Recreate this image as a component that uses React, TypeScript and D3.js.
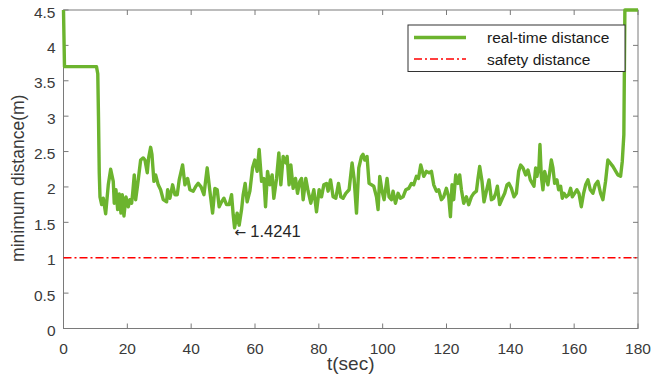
import React, { useEffect, useRef } from "react";
import * as d3 from "d3";

// time (sec) and minimum distance (m)
const times = [
  0, 0.31, 10.33, 10.74, 10.96, 11.2, 11.43, 11.96, 12.46, 13.21, 14.03, 14.78, 15.59, 15.9, 16.44,
  16.97, 17.47, 18.0, 18.41, 18.94, 19.57, 20.29, 20.82, 21.35, 21.67, 22.17, 22.6, 23.23, 24.17,
  24.98, 25.52, 26.24, 26.67, 27.3, 27.71, 28.33, 28.87, 29.68, 30.43, 31.25, 32.31, 32.62, 33.34,
  34.19, 34.91, 35.63, 36.25, 37.32, 38.04, 38.88, 39.6, 40.64, 41.48, 42.2, 43.1, 44.0, 45.02,
  45.87, 46.71, 47.43, 48.15, 48.78, 49.53, 50.25, 51.09, 51.91, 52.66, 53.16, 53.6, 54.41, 55.04,
  55.79, 56.29, 56.92, 57.54, 58.39, 59.23, 59.95, 60.68, 61.3, 62.05, 62.77, 63.3, 63.93, 64.65,
  65.37, 65.9, 66.75, 67.47, 68.1, 68.82, 69.66, 70.07, 70.69, 71.23, 71.95, 72.7, 73.32, 74.04,
  74.58, 75.08, 75.92, 76.64, 77.49, 78.43, 79.27, 80.09, 80.84, 81.56, 82.4, 82.9, 83.66, 84.47,
  85.32, 86.16, 86.88, 87.6, 88.45, 89.48, 90.42, 91.05, 91.8, 92.52, 93.36, 93.86, 94.39, 95.11,
  95.74, 96.49, 97.21, 98.06, 98.56, 99.09, 99.81, 100.44, 101.38, 102.0, 102.75, 103.25, 104.0,
  104.82, 105.57, 106.39, 107.23, 108.17, 109.02, 109.73, 110.58, 111.21, 111.93, 112.87, 113.71,
  114.53, 115.28, 116.0, 116.84, 117.56, 118.41, 119.13, 119.97, 120.69, 121.23, 121.73, 122.26,
  122.89, 123.6, 124.14, 124.67, 125.39, 126.23, 126.96, 127.8, 128.52, 129.37, 129.87, 130.4,
  131.12, 131.75, 132.5, 133.31, 134.06, 134.78, 135.41, 135.94, 136.66, 137.5, 138.23, 138.95,
  139.57, 140.32, 141.14, 141.89, 142.61, 143.24, 143.96, 144.8, 145.52, 146.27, 146.9, 147.4,
  147.93, 148.34, 148.97, 149.28, 149.71, 150.21, 150.75, 151.28, 151.78, 152.32, 152.85, 153.35,
  153.88, 154.6, 155.13, 155.76, 156.29, 156.79, 157.54, 158.26, 158.89, 159.42, 160.14, 160.86,
  161.49, 162.24, 162.96, 163.59, 164.31, 165.05, 165.87, 166.62, 167.43, 168.28, 169.0, 169.84,
  170.56, 172.13, 173.69, 174.54, 175.07, 175.57, 175.89, 180,
];
const distances = [
  4.5, 3.7, 3.7, 3.6, 3.0, 2.2, 1.86, 1.75, 1.84, 1.62, 2.03, 2.25, 2.08, 1.77, 1.96,
  1.68, 1.9, 1.63, 1.89, 1.59, 1.86, 1.72, 1.82, 1.77, 1.91, 2.17, 1.82, 2.03, 2.38,
  2.41, 2.38, 2.2, 2.41, 2.56, 2.46, 2.08, 2.17, 2.03, 1.96, 1.82, 1.79, 1.96, 1.84,
  2.03, 1.89, 1.89, 2.1, 2.31, 2.03, 2.12, 1.96, 1.94, 2.01, 2.05, 2.0, 1.89, 2.27,
  1.94, 1.63, 1.98, 1.96, 1.72, 1.79, 1.84, 1.75, 1.75, 1.89, 1.61, 1.4241, 1.63, 1.46,
  1.68, 1.89, 2.05, 1.79, 1.94, 2.27, 2.38, 2.22, 2.53, 2.08, 2.12, 1.72, 2.22, 2.03,
  2.17, 1.84, 2.12, 2.48, 2.03, 2.43, 2.34, 2.43, 2.03, 2.31, 1.98, 2.12, 1.91, 2.08,
  2.12, 1.82, 2.12, 1.94, 1.77, 1.96, 1.65, 1.96, 1.86, 2.03, 2.05, 1.94, 2.1, 1.86,
  1.84, 2.05, 1.86, 1.84, 1.91, 1.96, 2.34, 2.12, 1.63, 2.27, 2.43, 2.46, 2.38, 2.43,
  2.05, 2.03, 2.01, 1.86, 1.68, 2.15, 1.94, 1.82, 2.12, 1.86, 1.82, 1.94, 1.77,
  1.91, 1.84, 1.86, 1.96, 1.98, 2.05, 2.03, 2.15, 2.12, 2.31, 2.15, 2.22,
  2.2, 2.22, 2.03, 1.94, 1.96, 1.82, 1.86, 1.98, 1.86, 1.58, 2.03, 1.82,
  2.17, 2.05, 2.17, 1.96, 1.77, 1.86, 1.75, 1.86, 1.91, 1.94, 2.12, 2.29,
  2.08, 1.79, 1.94, 2.1, 1.82, 1.84, 1.91, 2.01, 1.75, 1.84, 1.91, 2.03,
  2.05, 1.98, 1.86, 1.91, 2.22, 2.31, 2.27, 2.17, 2.24, 2.1, 2.05, 2.01,
  2.27, 2.15, 2.29, 2.6, 2.15, 1.96, 2.22, 2.12, 2.03, 2.2, 2.38, 2.27,
  2.05, 2.1, 1.96, 2.01, 1.84, 1.91, 1.86, 1.89, 1.98, 1.86, 1.91, 1.96,
  1.91, 1.72, 1.91, 2.03, 2.1, 1.96, 1.91, 2.03, 2.08, 1.91, 1.82, 2.08,
  2.38, 2.29, 2.17, 2.15, 2.36, 2.74, 4.5, 4.5,
];
const safetyDistance = 1;
const minLabel = "1.4241";
const xTicks = [0, 20, 40, 60, 80, 100, 120, 140, 160, 180];
const yTicks = [0, 0.5, 1, 1.5, 2, 2.5, 3, 3.5, 4, 4.5];
const legendLabels = ["real-time distance", "safety distance"];

const App = () => {
  const ref = useRef<SVGSVGElement>(null);

  useEffect(() => {
    const width = 652;
    const height = 389;
    const margin = { top: 10, right: 14, bottom: 60.5, left: 63.5 };
    const font = "'Liberation Sans', Arial, sans-serif";
    const green = "#6cb42e";
    const textColor = "#3a3a3a";

    const svg = d3.select(ref.current);
    svg.selectAll("*").remove();

    const x = d3.scaleLinear().domain([0, 180]).range([margin.left, width - margin.right]);
    const y = d3.scaleLinear().domain([0, 4.5]).range([height - margin.bottom, margin.top]);

    const x0 = x(0), x1 = x(180), y0 = y(0), y1 = y(4.5);

    // axes box + ticks (inward, mirrored)
    const axis = svg.append("g").attr("stroke", "#7a7a7a").attr("stroke-width", 1);
    axis.append("rect")
      .attr("x", x0).attr("y", y1)
      .attr("width", x1 - x0).attr("height", y0 - y1)
      .attr("fill", "none");
    xTicks.forEach((t) => {
      axis.append("line").attr("x1", x(t)).attr("x2", x(t)).attr("y1", y0).attr("y2", y0 - 5);
      axis.append("line").attr("x1", x(t)).attr("x2", x(t)).attr("y1", y1).attr("y2", y1 + 5);
    });
    yTicks.forEach((v) => {
      axis.append("line").attr("x1", x0).attr("x2", x0 + 5).attr("y1", y(v)).attr("y2", y(v));
      axis.append("line").attr("x1", x1).attr("x2", x1 - 5).attr("y1", y(v)).attr("y2", y(v));
    });

    svg.append("g").selectAll("text")
      .data(xTicks)
      .enter()
      .append("text")
      .attr("x", (d) => x(d))
      .attr("y", y0 + 25.5)
      .attr("text-anchor", "middle")
      .style("font-family", font)
      .style("font-size", "15.5px")
      .style("fill", textColor)
      .text((d) => String(d));

    svg.append("g").selectAll("text")
      .data(yTicks)
      .enter()
      .append("text")
      .attr("x", x0 - 8)
      .attr("y", (d) => y(d) + 7.5)
      .attr("text-anchor", "end")
      .style("font-family", font)
      .style("font-size", "15.5px")
      .style("fill", textColor)
      .text((d) => String(d));

    svg.append("text")
      .attr("x", (x0 + x1) / 2)
      .attr("y", y0 + 41)
      .attr("text-anchor", "middle")
      .style("font-family", font)
      .style("font-size", "19px")
      .style("fill", textColor)
      .text("t(sec)");

    svg.append("text")
      .attr("transform", `translate(24,${(y0 + y1) / 2 + 9}) rotate(-90)`)
      .attr("text-anchor", "middle")
      .style("font-family", font)
      .style("font-size", "17.5px")
      .style("fill", textColor)
      .text("minimum distance(m)");

    // safety distance
    svg.append("line")
      .attr("x1", x0).attr("x2", x1)
      .attr("y1", y(safetyDistance)).attr("y2", y(safetyDistance))
      .attr("stroke", "#ff0000")
      .attr("stroke-width", 1.4)
      .attr("stroke-dasharray", "8,3,2,3");

    // real-time distance
    const pts = times.map((t, i) => [t, distances[i]] as [number, number]);
    const line = d3.line<[number, number]>().x((d) => x(d[0])).y((d) => y(d[1]));
    svg.append("path")
      .attr("d", line(pts))
      .attr("fill", "none")
      .attr("stroke", green)
      .attr("stroke-width", 3.4)
      .attr("stroke-linejoin", "round");

    // annotation at minimum
    const iMin = d3.minIndex(distances);
    const ann = svg.append("text")
      .attr("x", x(times[iMin]))
      .attr("y", y(distances[iMin]) + 9)
      .style("font-family", font)
      .style("font-size", "16.5px")
      .style("fill", "#262626");
    ann.append("tspan").style("font-family", "'DejaVu Sans', sans-serif").style("font-size", "14px").text("\u2190");
    ann.append("tspan").attr("dx", 4).text(minLabel);

    // legend
    const lg = svg.append("g");
    lg.append("rect")
      .attr("x", 408).attr("y", 25)
      .attr("width", 217).attr("height", 46.5)
      .attr("fill", "#fff")
      .attr("stroke", "#333")
      .attr("stroke-width", 1);
    const styles = [
      { color: green, width: 3.4, dash: null as string | null },
      { color: "#ff0000", width: 1.4, dash: "8,3,2,3" },
    ];
    legendLabels.forEach((label, i) => {
      const ly = 37.5 + i * 21.5;
      lg.append("line")
        .attr("x1", 414).attr("x2", 466)
        .attr("y1", ly).attr("y2", ly)
        .attr("stroke", styles[i].color)
        .attr("stroke-width", styles[i].width)
        .attr("stroke-dasharray", styles[i].dash);
      lg.append("text")
        .attr("x", 487)
        .attr("y", ly + 5.5)
        .style("font-family", font)
        .style("font-size", "15.5px")
        .style("fill", "#1a1a1a")
        .text(label);
    });
  }, []);

  return (
    <div style={{ position: "absolute", left: 0, top: 0 }}>
      <svg ref={ref} width={652} height={389} style={{ display: "block", background: "#fff" }} />
    </div>
  );
};

export default App;
